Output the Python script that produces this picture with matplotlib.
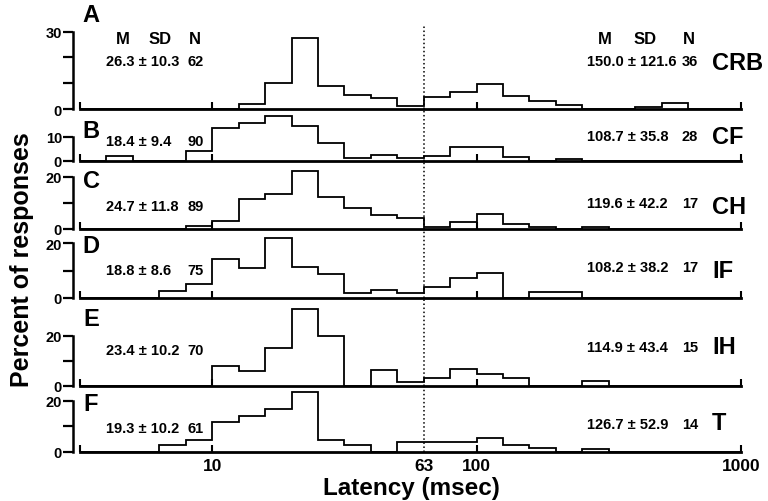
import numpy as np
import matplotlib
matplotlib.use('Agg')
from matplotlib import pyplot as plt

plt.rcParams['font.family'] = ['Liberation Sans', 'DejaVu Sans']
plt.rcParams['font.weight'] = 'bold'

# bin edges: 0.1 log-decade bins from 10^0.5 to 10^3 msec
log_edges = np.arange(5, 31) / 10
edges = 10 ** log_edges

# percent of responses per bin (25 bins)
crb = [0, 0, 0, 0, 0, 0, 1.8, 10.0, 27.6, 8.9, 5.5, 4.3, 1.2,
       4.8, 6.6, 9.8, 4.9, 3.2, 1.6, 0, 0, 0.8, 2.3, 0, 0]
cf = [0, 1.7, 0, 0, 3.8, 13.7, 15.9, 18.6, 14.5, 7.5, 1.0, 2.4, 1.1,
      1.7, 5.9, 5.9, 1.3, 0, 0.7, 0, 0, 0, 0, 0, 0]
ch = [0, 0, 0, 0, 1.0, 2.7, 11.2, 13.4, 22.3, 12.1, 8.0, 5.1, 3.9,
      0.6, 2.5, 5.5, 1.9, 0.6, 0, 0.6, 0, 0, 0, 0, 0]
if_ = [0, 0, 0, 2.7, 5.1, 14.2, 10.9, 21.8, 11.1, 8.7, 1.8, 2.8, 1.8,
       3.9, 7.2, 9.0, 0, 2.1, 2.1, 0, 0, 0, 0, 0, 0]
ih = [0, 0, 0, 0, 0, 7.7, 5.7, 15.1, 30.8, 20.0, 0, 6.1, 1.5,
      2.9, 6.6, 4.6, 2.9, 0, 0, 1.7, 0, 0, 0, 0, 0]
t = [0, 0, 0, 2.7, 4.4, 11.6, 13.8, 16.7, 23.3, 4.7, 2.4, 0, 3.6,
     3.9, 3.9, 5.4, 2.6, 1.4, 0, 1.0, 0, 0, 0, 0, 0]

series = [crb, cf, ch, if_, ih, t]
letters = ['A', 'B', 'C', 'D', 'E', 'F']
groups = ['CRB', 'CF', 'CH', 'IF', 'IH', 'T']
left_stats = ['26.3 ± 10.3', '18.4 ± 9.4', '24.7 ± 11.8', '18.8 ± 8.6', '23.4 ± 10.2', '19.3 ± 10.2']
left_n = ['62', '90', '89', '75', '70', '61']
right_stats = ['150.0 ± 121.6', '108.7 ± 35.8', '119.6 ± 42.2', '108.2 ± 38.2', '114.9 ± 43.4', '126.7 ± 52.9']
right_n = ['36', '28', '17', '17', '15', '14']
y_tops = [30, 10, 20, 20, 20, 20]
y_ticks = [[0, 10, 20, 30], [0, 10], [0, 10, 20], [0, 10, 20], [0, 10, 20], [0, 10, 20]]
split = 63

# layout in pixels: (top, baseline, px per percent)
W, H = 768, 502
panels = [(20, 110, 2.58), (110, 161.5, 2.37), (161.5, 229.5, 2.6),
          (229.5, 299, 2.75), (299, 386.5, 2.5), (386.5, 452.5, 2.55)]
# y of the text rows in each panel (left, right)
text_y = [(62, 62), (142, 137), (207, 204), (271, 268), (351, 348), (429, 425)]
group_y = [63, 137, 207, 272, 348, 423]
letter_y = [15, 132, 182, 247, 320, 405]

fig = plt.figure(figsize=(W / 100, H / 100), dpi=100)
x0, x1 = 80, 741

def fx(px):
    return px / W

def fy(py):
    return 1 - py / H

for i, (top, base, scale) in enumerate(panels):
    ax = fig.add_axes([fx(x0), fy(base), fx(x1 - x0), (base - top) / H])
    ax.set_facecolor('none')
    ax.stairs(series[i], edges, color='black', lw=1.3)
    ax.set_xscale('log')
    ax.set_xlim(edges[0], edges[-1])
    ax.set_ylim(0, (base - top) / scale)
    ymax = (base - 27) / (base - top) if i == 0 else 1
    ax.axvline(split, ymin=0, ymax=ymax, color='black', ls=':', lw=1.1)

    for s in ['top', 'right']:
        ax.spines[s].set_visible(False)
    ax.spines['bottom'].set_linewidth(2)
    ax.spines['left'].set_linewidth(1.8)
    ax.spines['left'].set_position(('outward', 5))
    ax.spines['left'].set_bounds(0, y_tops[i])

    yt = y_ticks[i]
    ax.set_yticks(yt)
    ax.set_yticklabels([str(v) if v in (0, y_tops[i]) else '' for v in yt])
    ax.tick_params(axis='y', direction='out', length=7, width=1.6, pad=1,
                   labelsize=10.5)
    ax.minorticks_off()
    if i == 5:
        xt = [edges[0], 10, split, 100, 1000]
        ax.set_xticks(xt)
        ax.set_xticklabels(['', '10', '63', '100', '1000'])
        ax.xaxis.get_major_ticks()[2].tick1line.set_visible(False)
    else:
        ax.set_xticks([edges[0], 10, 100, 1000])
        ax.set_xticklabels([])
    ax.tick_params(axis='x', which='both', direction='in', length=5, width=1.5,
                   pad=5, labelsize=12.5)
    ax.minorticks_off()

    ly, ry = text_y[i]
    fig.text(fx(106), fy(ly), left_stats[i], fontsize=10.5, va='center', ha='left')
    fig.text(fx(196), fy(ly), left_n[i], fontsize=10.5, va='center', ha='center')
    fig.text(fx(587), fy(ry), right_stats[i], fontsize=10.5, va='center', ha='left')
    fig.text(fx(690), fy(ry), right_n[i], fontsize=10.5, va='center', ha='center')
    fig.text(fx(712), fy(group_y[i]), groups[i], fontsize=17, va='center', ha='left')
    fig.text(fx(91), fy(letter_y[i]), letters[i], fontsize=17, va='center', ha='center')

for px, lab in [(123, 'M'), (160, 'SD'), (195, 'N'), (605, 'M'), (645, 'SD'), (689, 'N')]:
    fig.text(fx(px), fy(40), lab, fontsize=12, va='center', ha='center')

fig.text(fx(411), fy(489), 'Latency (msec)', fontsize=17.5, va='center', ha='center')
fig.text(fx(22), fy(260), 'Percent of responses', fontsize=18, va='center',
         ha='center', rotation=90)

fig.savefig('out.png', dpi=100)
plt.close(fig)
